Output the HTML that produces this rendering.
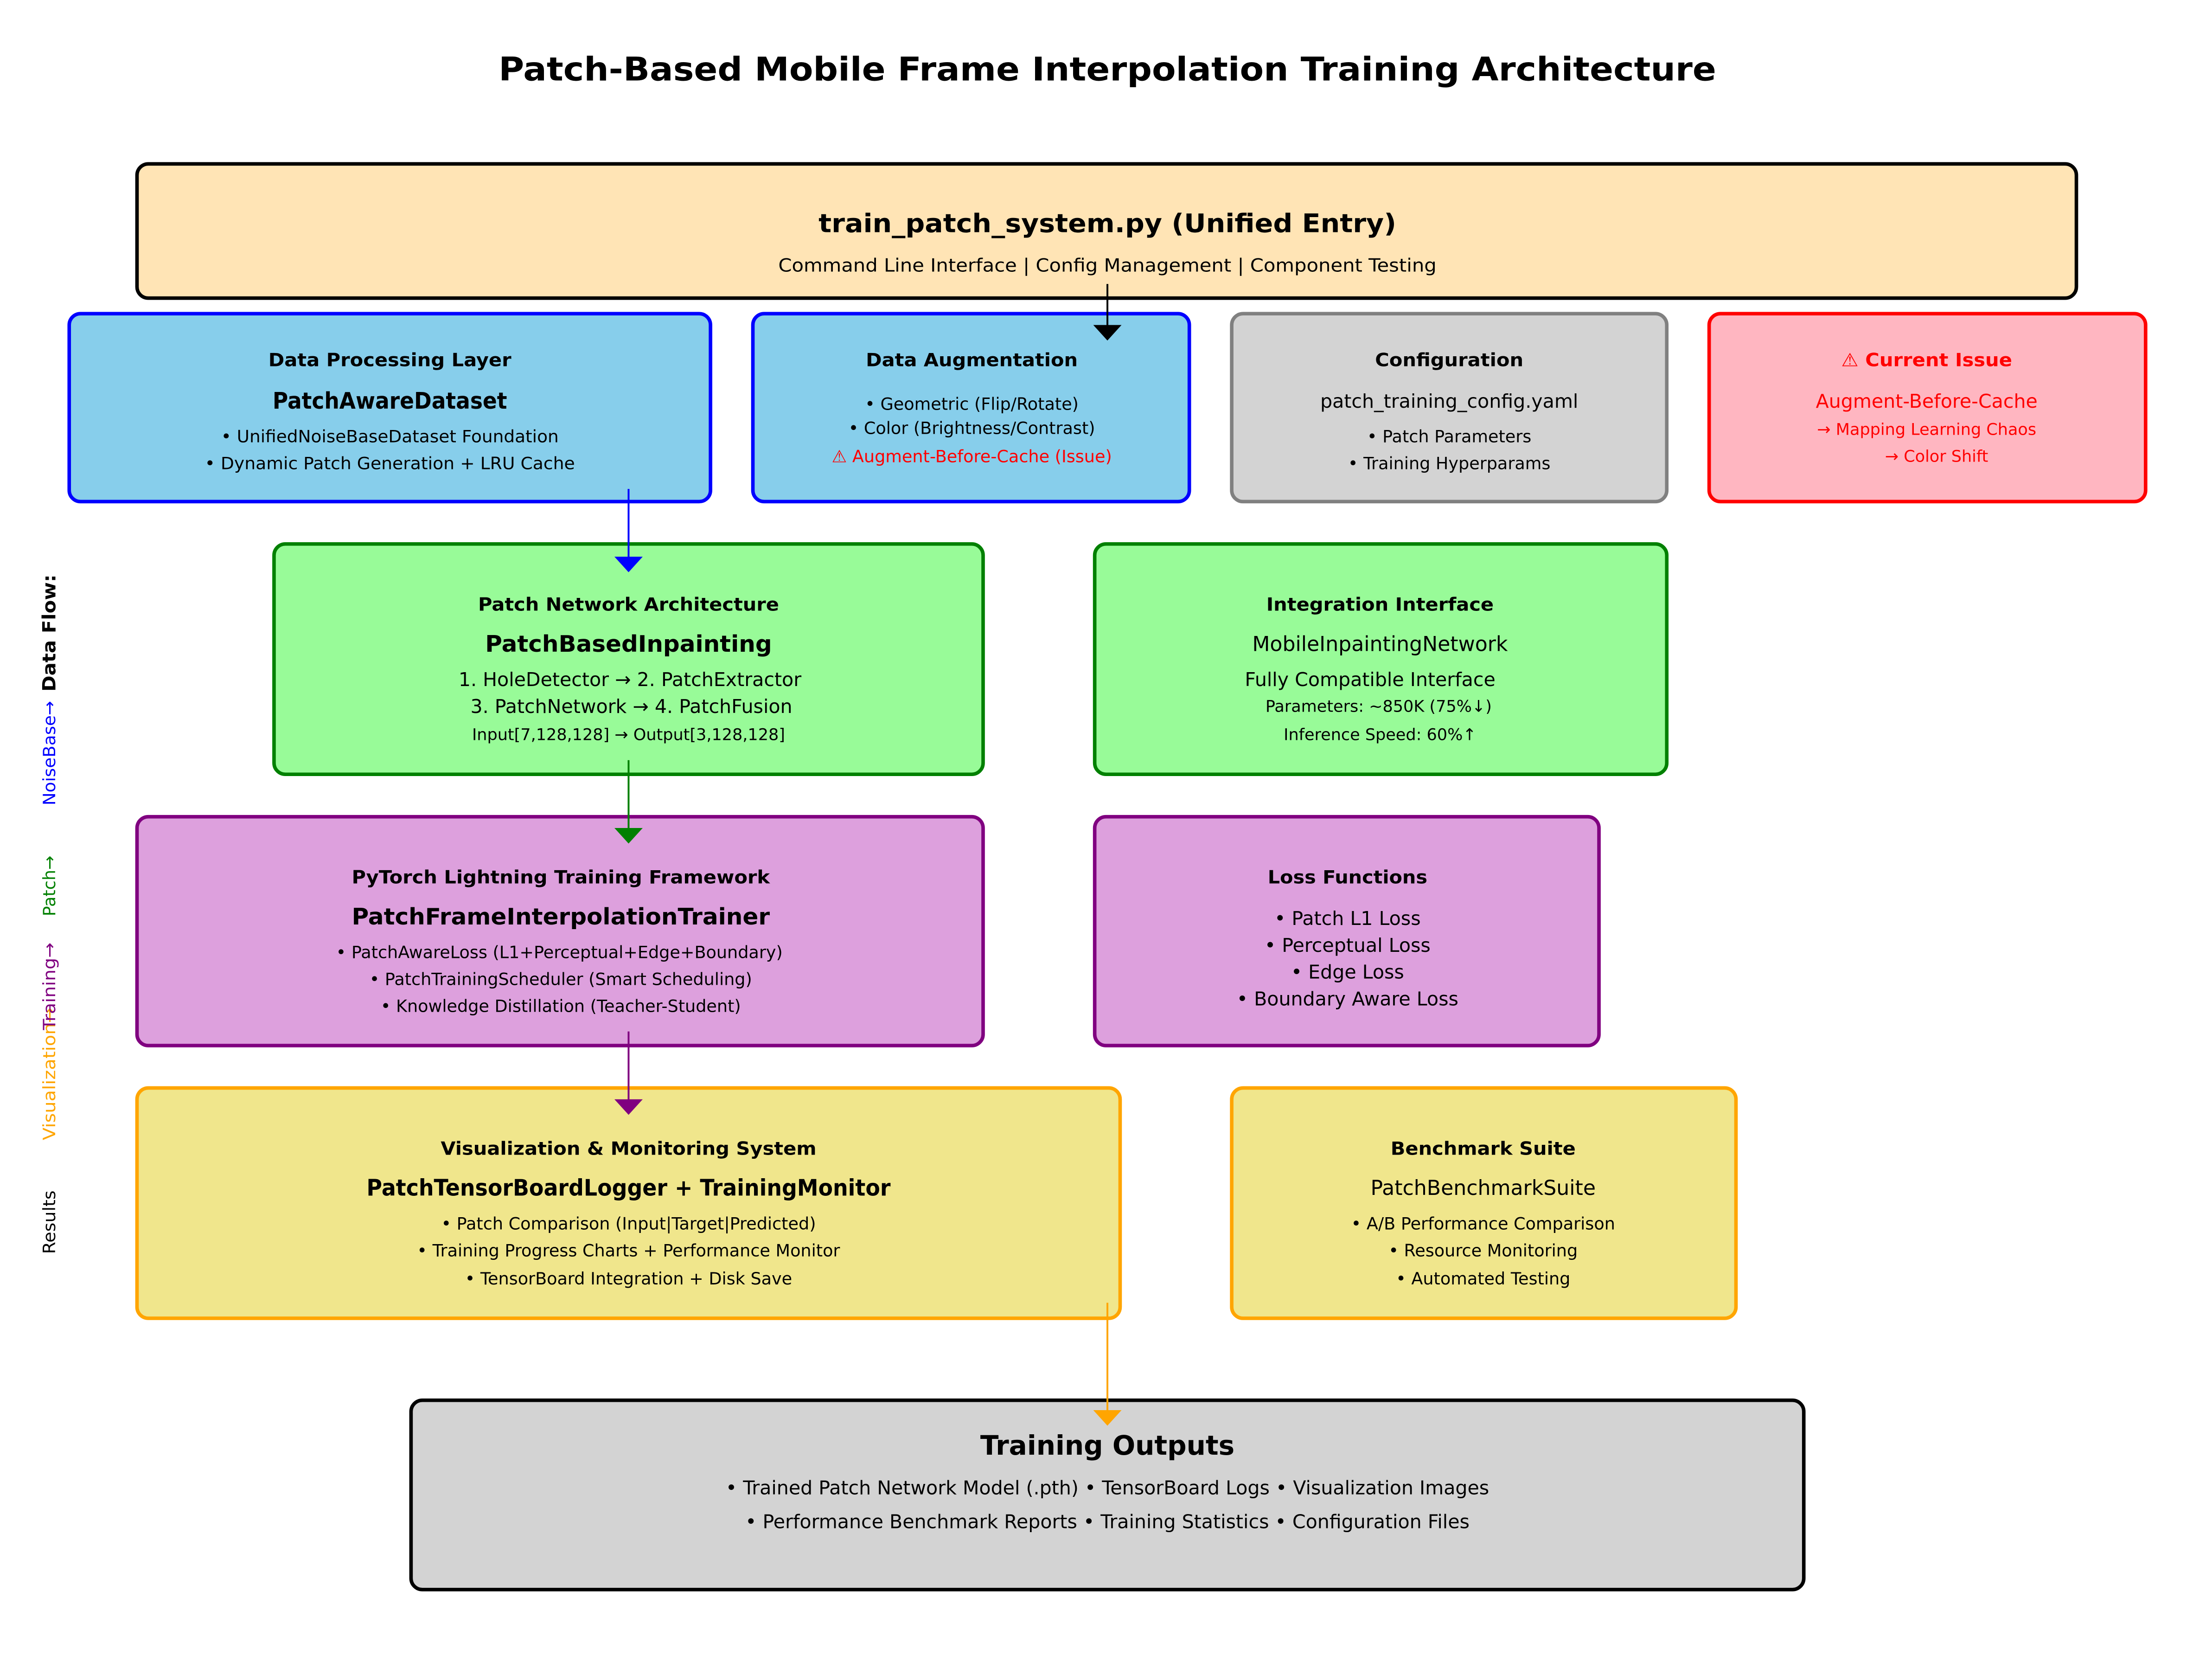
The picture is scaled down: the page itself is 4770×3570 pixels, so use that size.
<!DOCTYPE html>
<html><head><meta charset="utf-8"><style>html,body{margin:0;padding:0;background:#fff}svg{display:block}text{font-family:"DejaVu Sans","Liberation Sans",sans-serif}</style></head><body>
<svg width="4770" height="3570" viewBox="0 0 1566 1172" preserveAspectRatio="none" xmlns="http://www.w3.org/2000/svg">
<rect width="1566" height="1172" fill="#fff"/>
<g text-anchor="middle" dominant-baseline="central">
<text x="784" y="49" font-size="23" font-weight="bold" textLength="862" lengthAdjust="spacingAndGlyphs">Patch-Based Mobile Frame Interpolation Training Architecture</text>

<rect x="97" y="116" width="1373" height="95" rx="8" fill="#FFE4B5" stroke="#000" stroke-width="2.5"/>
<text x="784" y="158" font-size="18" font-weight="bold" textLength="409" lengthAdjust="spacingAndGlyphs">train_patch_system.py (Unified Entry)</text>
<text x="784" y="188" font-size="13" textLength="466" lengthAdjust="spacingAndGlyphs">Command Line Interface | Config Management | Component Testing</text>

<rect x="49" y="222" width="454" height="133" rx="8" fill="#87CEEB" stroke="#0000FF" stroke-width="2.5"/>
<text x="276" y="255" font-size="13" font-weight="bold" textLength="172" lengthAdjust="spacingAndGlyphs">Data Processing Layer</text>
<text x="276" y="284" font-size="16" font-weight="bold" textLength="166" lengthAdjust="spacingAndGlyphs">PatchAwareDataset</text>
<text x="276" y="309" font-size="12" textLength="239" lengthAdjust="spacingAndGlyphs">• UnifiedNoiseBaseDataset Foundation</text>
<text x="276" y="328" font-size="12" textLength="262" lengthAdjust="spacingAndGlyphs">• Dynamic Patch Generation + LRU Cache</text>

<rect x="533" y="222" width="309" height="133" rx="8" fill="#87CEEB" stroke="#0000FF" stroke-width="2.5"/>
<text x="688" y="255" font-size="13" font-weight="bold" textLength="150" lengthAdjust="spacingAndGlyphs">Data Augmentation</text>
<text x="688" y="286" font-size="12">• Geometric (Flip/Rotate)</text>
<text x="688" y="303" font-size="12">• Color (Brightness/Contrast)</text>
<text x="688" y="323" font-size="12" fill="#FF0000">⚠ Augment-Before-Cache (Issue)</text>

<rect x="872" y="222" width="308" height="133" rx="8" fill="#D3D3D3" stroke="#808080" stroke-width="2.5"/>
<text x="1026" y="255" font-size="13" font-weight="bold" textLength="105" lengthAdjust="spacingAndGlyphs">Configuration</text>
<text x="1026" y="284" font-size="13.5">patch_training_config.yaml</text>
<text x="1026" y="309" font-size="12">• Patch Parameters</text>
<text x="1026" y="328" font-size="12">• Training Hyperparams</text>

<rect x="1210" y="222" width="309" height="133" rx="8" fill="#FFB6C1" stroke="#FF0000" stroke-width="2.5"/>
<text x="1364" y="255" font-size="13" font-weight="bold" fill="#FF0000" textLength="121" lengthAdjust="spacingAndGlyphs">⚠ Current Issue</text>
<text x="1364" y="284" font-size="13.5" fill="#FF0000">Augment-Before-Cache</text>
<text x="1364" y="304" font-size="11.5" fill="#FF0000">→ Mapping Learning Chaos</text>
<text x="1371" y="323" font-size="11.5" fill="#FF0000">→ Color Shift</text>

<rect x="194" y="385" width="502" height="163" rx="8" fill="#98FB98" stroke="#008000" stroke-width="2.5"/>
<text x="445" y="428" font-size="13" font-weight="bold" textLength="213" lengthAdjust="spacingAndGlyphs">Patch Network Architecture</text>
<text x="445" y="456" font-size="16" font-weight="bold" textLength="203" lengthAdjust="spacingAndGlyphs">PatchBasedInpainting</text>
<text x="446" y="481" font-size="13.5">1. HoleDetector → 2. PatchExtractor</text>
<text x="447" y="500" font-size="13.5">3. PatchNetwork → 4. PatchFusion</text>
<text x="445" y="520" font-size="11.5">Input[7,128,128] → Output[3,128,128]</text>

<rect x="775" y="385" width="405" height="163" rx="8" fill="#98FB98" stroke="#008000" stroke-width="2.5"/>
<text x="977" y="428" font-size="13" font-weight="bold" textLength="161" lengthAdjust="spacingAndGlyphs">Integration Interface</text>
<text x="977" y="456" font-size="14.5">MobileInpaintingNetwork</text>
<text x="970" y="481" font-size="13.5">Fully Compatible Interface</text>
<text x="976" y="500" font-size="11.5">Parameters: ~850K (75%↓)</text>
<text x="977" y="520" font-size="11.5">Inference Speed: 60%↑</text>

<rect x="97" y="578" width="599" height="162" rx="8" fill="#DDA0DD" stroke="#800080" stroke-width="2.5"/>
<text x="397" y="621" font-size="13" font-weight="bold" textLength="296" lengthAdjust="spacingAndGlyphs">PyTorch Lightning Training Framework</text>
<text x="397" y="649" font-size="16" font-weight="bold" textLength="296" lengthAdjust="spacingAndGlyphs">PatchFrameInterpolationTrainer</text>
<text x="396" y="674" font-size="12">• PatchAwareLoss (L1+Perceptual+Edge+Boundary)</text>
<text x="397" y="693" font-size="12">• PatchTrainingScheduler (Smart Scheduling)</text>
<text x="397" y="712" font-size="12">• Knowledge Distillation (Teacher-Student)</text>

<rect x="775" y="578" width="357" height="162" rx="8" fill="#DDA0DD" stroke="#800080" stroke-width="2.5"/>
<text x="954" y="621" font-size="13" font-weight="bold" textLength="113" lengthAdjust="spacingAndGlyphs">Loss Functions</text>
<text x="954" y="650" font-size="13.5">• Patch L1 Loss</text>
<text x="954" y="669" font-size="13.5">• Perceptual Loss</text>
<text x="954" y="688" font-size="13.5">• Edge Loss</text>
<text x="954" y="707" font-size="13.5">• Boundary Aware Loss</text>

<rect x="97" y="770" width="696" height="163" rx="8" fill="#F0E68C" stroke="#FFA500" stroke-width="2.5"/>
<text x="445" y="813" font-size="13" font-weight="bold" textLength="266" lengthAdjust="spacingAndGlyphs">Visualization &amp; Monitoring System</text>
<text x="445" y="841" font-size="16" font-weight="bold" textLength="371" lengthAdjust="spacingAndGlyphs">PatchTensorBoardLogger + TrainingMonitor</text>
<text x="445" y="866" font-size="12">• Patch Comparison (Input|Target|Predicted)</text>
<text x="445" y="885" font-size="12">• Training Progress Charts + Performance Monitor</text>
<text x="445" y="905" font-size="12">• TensorBoard Integration + Disk Save</text>

<rect x="872" y="770" width="357" height="163" rx="8" fill="#F0E68C" stroke="#FFA500" stroke-width="2.5"/>
<text x="1050" y="813" font-size="13" font-weight="bold" textLength="131" lengthAdjust="spacingAndGlyphs">Benchmark Suite</text>
<text x="1050" y="841" font-size="14.5">PatchBenchmarkSuite</text>
<text x="1050" y="866" font-size="12">• A/B Performance Comparison</text>
<text x="1050" y="885" font-size="12">• Resource Monitoring</text>
<text x="1050" y="905" font-size="12">• Automated Testing</text>

<rect x="291" y="991" width="986" height="134" rx="8" fill="#D3D3D3" stroke="#000" stroke-width="2.5"/>
<text x="784" y="1023" font-size="19" font-weight="bold" textLength="180" lengthAdjust="spacingAndGlyphs">Training Outputs</text>
<text x="784" y="1053" font-size="13.5">• Trained Patch Network Model (.pth) • TensorBoard Logs • Visualization Images</text>
<text x="784" y="1077" font-size="13.5">• Performance Benchmark Reports • Training Statistics • Configuration Files</text>
</g>

<g stroke-width="1.3">
<line x1="784" y1="201" x2="784" y2="231" stroke="#000"/><polygon points="774,230 794,230 784,241" fill="#000"/>
<line x1="445" y1="346" x2="445" y2="395" stroke="#0000FF"/><polygon points="435,394 455,394 445,405" fill="#0000FF"/>
<line x1="445" y1="538" x2="445" y2="587" stroke="#008000"/><polygon points="435,586 455,586 445,597" fill="#008000"/>
<line x1="445" y1="730" x2="445" y2="779" stroke="#800080"/><polygon points="435,778 455,778 445,789" fill="#800080"/>
<line x1="784" y1="922" x2="784" y2="999" stroke="#FFA500"/><polygon points="774,998 794,998 784,1009" fill="#FFA500"/>
</g>

<g dominant-baseline="central" font-size="12">
<text transform="translate(35,448) rotate(-90)" text-anchor="middle" font-weight="bold" font-size="13" textLength="83" lengthAdjust="spacingAndGlyphs">Data Flow:</text>
<text transform="translate(35,533) rotate(-90)" text-anchor="middle" fill="#0000FF" textLength="74" lengthAdjust="spacingAndGlyphs">NoiseBase→</text>
<text transform="translate(35,627) rotate(-90)" text-anchor="middle" fill="#008000" textLength="43" lengthAdjust="spacingAndGlyphs">Patch→</text>
<text transform="translate(35,760) rotate(-90)" text-anchor="middle" fill="#FFA500" textLength="94" lengthAdjust="spacingAndGlyphs">Visualization→</text>
<text transform="translate(35,698) rotate(-90)" text-anchor="middle" fill="#800080" textLength="62" lengthAdjust="spacingAndGlyphs">Training→</text>
<text transform="translate(35,865) rotate(-90)" text-anchor="middle" textLength="45" lengthAdjust="spacingAndGlyphs">Results</text>
</g>
</svg>
</body></html>
